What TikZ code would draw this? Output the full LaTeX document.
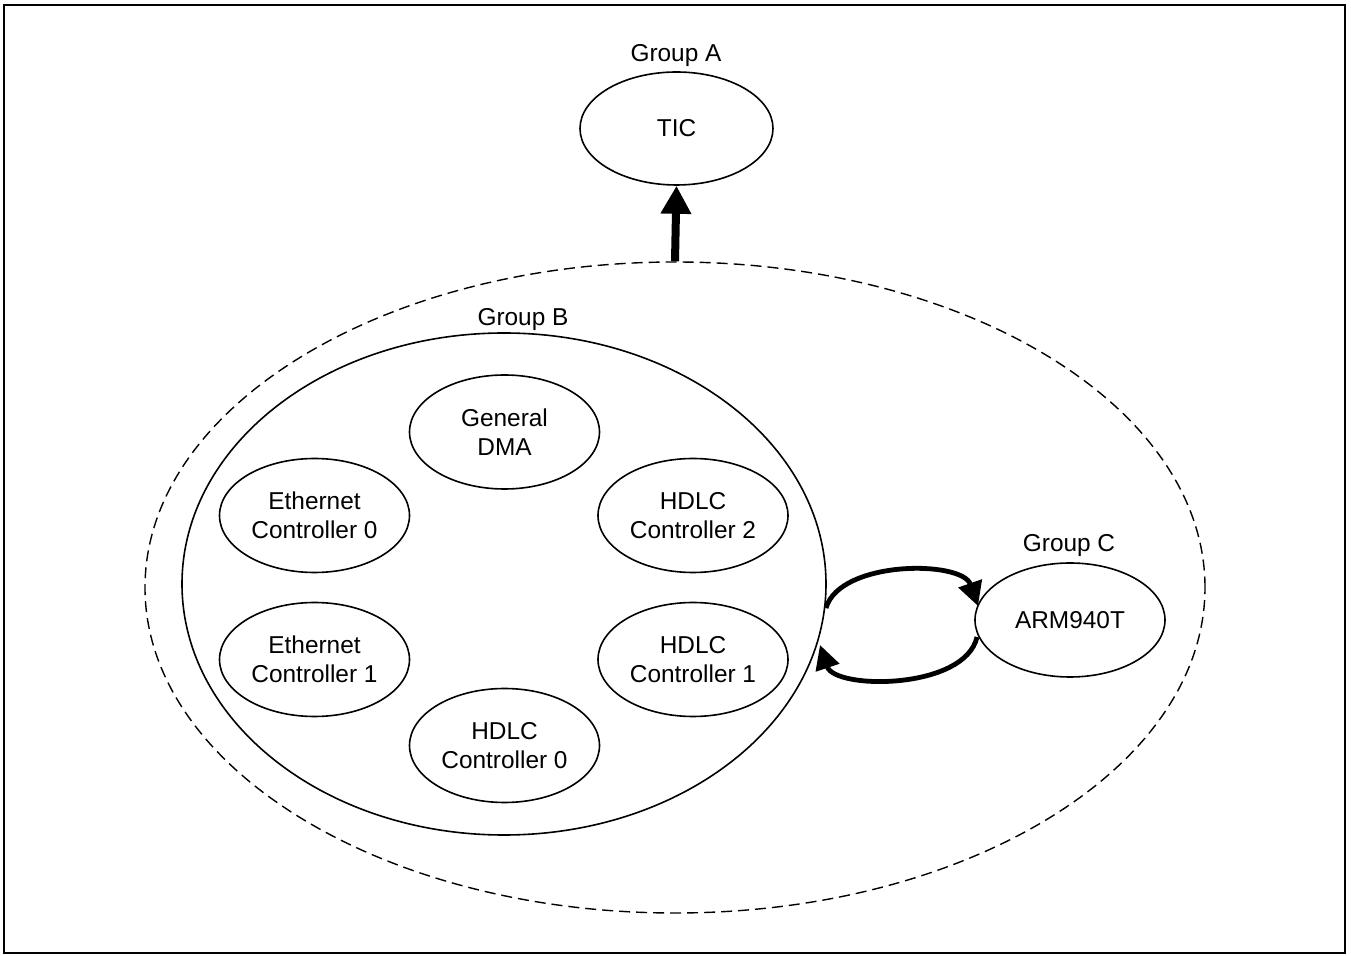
\documentclass[tikz,border=0pt]{standalone}
\usepackage{fontspec}
\setmainfont{Liberation Sans}
\usetikzlibrary{shapes.geometric,arrows.meta}
\begin{document}
\begin{tikzpicture}[x=0.5pt,y=-0.5pt,
  every node/.style={font=\fontsize{12.2}{14.5}\selectfont},
  oval/.style={ellipse,draw,line width=0.8pt,inner sep=0pt,align=center},
  small/.style={oval,minimum width=95pt,minimum height=57pt},
  lbl/.style={inner sep=0pt},
  bigarrow/.style={line width=4pt,-{Triangle[length=14pt,width=14.5pt]}},
  looparrow/.style={line width=2.4pt,-{Triangle[length=12pt,width=12pt]}}]
\useasboundingbox (0,0) rectangle (1351,956);
\draw[line width=1pt] (4,5) rectangle (1345,953);
% outer dashed group
\node[ellipse,draw,dash pattern=on 5.5pt off 3pt,line width=0.7pt,inner sep=0pt,
  minimum width=530pt,minimum height=325.5pt] (D) at (675,587.5) {};
% Group A
\node[oval,minimum width=96.5pt,minimum height=56.5pt] (TIC) at (676.5,128.5) {TIC};
\node[lbl] (la) at (676,56) {Group A};
% Group B
\node[oval,minimum width=322pt,minimum height=251pt] (B) at (504,584) {};
\node[lbl] (lb) at (523,320) {Group B};
\node[small] (dma) at (504.5,432) {General\\DMA};
\node[small] (e0) at (314.5,515.5) {Ethernet\\Controller 0};
\node[small] (h2) at (693,515.5) {HDLC\\Controller 2};
\node[small] (e1) at (314.5,659.5) {Ethernet\\Controller 1};
\node[small] (h1) at (693,659.5) {HDLC\\Controller 1};
\node[small] (h0) at (504.5,745.5) {HDLC\\Controller 0};
% Group C
\node[small] (arm) at (1070,620) {ARM940T};
\node[lbl] (lc) at (1069,546) {Group C};
% connectors
\draw[bigarrow] (D.north) -- (TIC.south);
\coordinate (b1) at (826,608);
\coordinate (a1) at (978,606);
\coordinate (a2) at (977,637);
\coordinate (b2) at (820,645);
\draw[looparrow] (b1) .. controls (840,560) and (962,560) .. (a1);
\draw[looparrow] (a2) .. controls (965,690) and (835,690) .. (b2);
\end{tikzpicture}
\end{document}
